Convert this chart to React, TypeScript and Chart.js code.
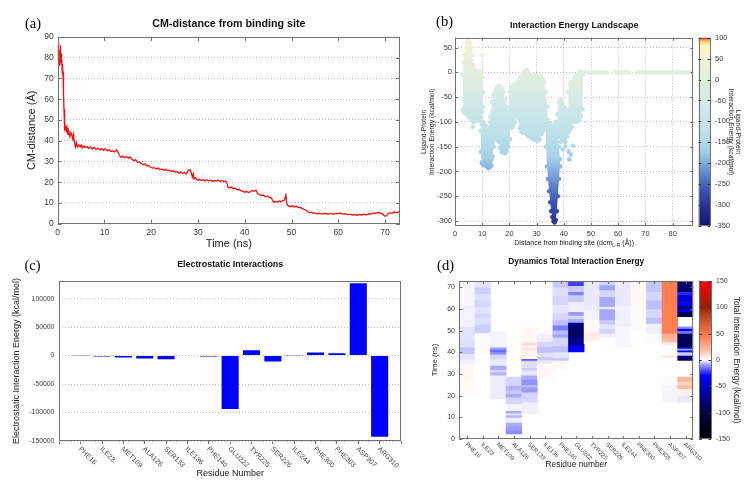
import { useEffect, useRef } from 'react';
import { Chart, registerables } from 'chart.js';

Chart.register(...registerables);

const SANS = '"Liberation Sans", Arial, Helvetica, sans-serif';
const SERIF = '"Liberation Serif", "DejaVu Serif", serif';
const TICK_COLOR = '#3a3a3a';
const GRID_COLOR = '#bdbdbd';
const FRAME_COLOR = '#707070';

// ---------------- (a) CM-distance from binding site ----------------
const cmTime = [
  0, 0.05, 0.1, 0.15, 0.2, 0.25, 0.3, 0.35, 0.4, 0.45, 0.5, 0.55, 0.6, 0.65, 0.7, 0.75, 0.8, 0.85, 0.9, 0.95,
  1.0, 1.05, 1.1, 1.15, 1.2, 1.25, 1.3, 1.35, 1.4, 1.45, 1.5, 1.55, 1.6, 1.7, 1.8, 1.9, 2.0, 2.1, 2.2, 2.3,
  2.4, 2.6, 2.8, 3.0, 3.2, 3.4, 3.5, 3.6, 3.8, 4.0, 4.2, 4.5, 4.8, 5.0, 5.3, 5.6, 6.0, 6.3, 6.6, 7.0,
  7.4, 7.8, 8.2, 8.6, 9.0, 9.4, 9.8, 10.2, 10.6, 11.0, 11.4, 11.8, 12.2, 12.6, 12.9, 13.2, 13.5, 13.9, 14.3, 14.7,
  15.1, 15.5, 15.9, 16.3, 16.7, 17.1, 17.5, 17.9, 18.3, 18.7, 19.1, 19.5, 19.9, 20.3, 20.7, 21.1, 21.5, 21.9, 22.3, 22.7,
  23.1, 23.5, 23.9, 24.3, 24.7, 25.1, 25.5, 25.9, 26.3, 26.7, 27.1, 27.5, 27.9, 28.2, 28.5, 28.8, 29.0, 29.2, 29.5, 29.9,
  30.3, 30.7, 31.1, 31.5, 31.9, 32.3, 32.7, 33.1, 33.5, 33.9, 34.3, 34.7, 35.1, 35.5, 35.9, 36.2, 36.4, 36.8, 37.2, 37.6,
  38.0, 38.4, 38.8, 39.2, 39.6, 40.0, 40.4, 40.8, 41.2, 41.6, 42.0, 42.4, 42.8, 43.2, 43.6, 44.0, 44.4, 44.8, 45.2, 45.6,
  46.0, 46.2, 46.6, 47.0, 47.4, 47.8, 48.2, 48.5, 48.7, 48.8, 48.9, 49.1, 49.4, 49.8, 50.2, 50.6, 51.0, 51.4, 51.8, 52.2,
  52.6, 53.0, 53.4, 53.8, 54.2, 54.6, 55.0, 55.5, 56.0, 56.5, 57.0, 57.5, 58.0, 58.5, 59.0, 59.5, 60.0, 60.5, 61.0, 61.5,
  62.0, 62.5, 63.0, 63.5, 64.0, 64.5, 65.0, 65.5, 66.0, 66.5, 67.0, 67.5, 68.0, 68.5, 69.0, 69.5, 70.0, 70.3, 70.6, 71.0,
  71.5, 72.0, 72.5, 73.0,
];
const cmDistance = [
  82, 86, 77, 84, 79, 87, 80, 76, 83, 78, 81, 86, 79, 84, 80, 77, 82, 78, 80, 74,
  77, 72, 76, 71, 73, 68, 62, 55, 52, 48, 50, 46, 47, 45, 47, 44, 46, 43, 45, 43,
  44, 42, 44, 43, 41, 43, 40, 39, 37, 39, 37, 38, 37, 38, 36.5, 37.5, 36.8, 37.2, 36.2, 37,
  36, 36.8, 35.8, 36.4, 35.6, 36.2, 35.4, 36.2, 35.2, 35.6, 34.8, 35.2, 34.6, 35.6, 34.4, 33, 32, 32.6, 31.8, 32.4,
  31.6, 32.2, 31, 30.4, 30.8, 29.6, 29.8, 29, 28.4, 28.8, 27.8, 28, 27.2, 26.8, 27, 26.4, 26.8, 26, 26.4, 25.8,
  26.2, 25.6, 25.8, 25.2, 25.6, 24.8, 25.2, 24.4, 25, 24.2, 24.8, 24, 25.8, 26, 25, 22.4, 24, 21.6, 22.2, 21,
  21.4, 20.8, 21.2, 20.6, 21.2, 20.8, 21, 20.4, 20.8, 20.6, 21, 20.4, 20.8, 20.2, 20.6, 19.4, 17.6, 17.2, 17.8, 16.8,
  17.2, 16.4, 16.6, 15.8, 15.6, 15.2, 15.6, 15, 15.4, 16, 15.6, 16.2, 14.4, 14, 13.6, 13.8, 13, 13.4, 12.8, 12.6,
  11.2, 10.4, 10.8, 10.4, 11, 10.6, 11.2, 11.4, 13.2, 14.6, 11, 9, 8.6, 8.2, 8.6, 8, 8.4, 7.8, 8, 7.4,
  7, 6.6, 6, 5.4, 5.6, 5, 5.2, 4.8, 5, 4.6, 5, 4.8, 4.6, 5, 4.6, 5, 4.8, 5.2, 4.6, 4.8,
  4.4, 4.6, 4.2, 4.4, 4, 4.4, 4.2, 4.6, 4.2, 4.8, 4.6, 5.2, 5, 5.4, 5.2, 4.6, 3.6, 3.8, 4.8, 5.2,
  5, 5.6, 5.2, 5.8,
];

// ---------------- (b) Interaction Energy Landscape ----------------
// each entry: [distance, upper energy, lower energy]
const landClusterA = [
  [2.8, -5, -75], [3.2, 20, -80], [3.6, 35, -82], [4.0, 50, -80], [4.4, 58, -84], [4.8, 63, -88], [5.2, 62, -90],
  [5.6, 58, -86], [6.0, 50, -95], [6.4, 35, -92], [6.8, 15, -100], [7.2, 5, -98], [7.6, 0, -93], [8.0, -2, -96],
  [8.4, 0, -97], [8.8, 2, -92], [9.2, -5, -98], [9.6, 0, -90], [10.0, -10, -80], [10.4, -40, -70],
];
const landClusterB = [
  [9.4, -118, -160], [9.8, -105, -182], [10.2, -100, -186], [10.6, -104, -185], [11.0, -108, -188], [11.4, -110, -184],
  [11.8, -118, -190], [12.2, -120, -193], [12.6, -112, -192], [13.0, -100, -190], [13.4, -90, -188], [13.8, -80, -170],
];
const landClusterC = [
  [13.0, -90, -180], [13.6, -60, -175], [14.2, -45, -150], [14.8, -36, -135], [15.4, -30, -130], [16.0, -27, -140],
  [16.6, -28, -152], [17.2, -32, -160], [17.8, -40, -162], [18.4, -55, -163], [19.0, -70, -158], [19.6, -80, -150],
  [20.2, -95, -135],
];
const landClusterD = [
  [19.6, -80, -100], [20.2, -40, -110], [20.8, -30, -112], [21.4, -25, -108], [22.0, -25, -100], [22.6, -22, -90],
  [23.2, -18, -92], [23.8, -12, -112], [24.4, -6, -120], [25.0, -2, -122], [25.6, 3, -118], [26.2, 5, -124],
  [26.8, 2, -128], [27.4, -3, -130], [28.0, -6, -132], [28.6, -8, -134], [29.2, -10, -136], [29.8, -6, -132],
  [30.4, -10, -138], [31.0, -12, -135], [31.6, -8, -125], [32.2, -12, -120], [32.8, -20, -115], [33.4, -40, -110],
  [34.0, -70, -105],
];
const landClusterE = [
  [33.4, -110, -150], [33.8, -100, -190], [34.2, -95, -215], [34.6, -100, -240], [35.0, -105, -262], [35.4, -110, -280],
  [35.8, -115, -292], [36.2, -110, -300], [36.6, -105, -303], [37.0, -100, -298], [37.4, -110, -280], [37.8, -120, -250],
  [38.2, -150, -215], [38.6, -175, -190],
];
const landClusterF = [
  [37.6, -85, -110], [38.2, -60, -130], [38.8, -55, -140], [39.4, -62, -138], [40.0, -70, -135], [40.6, -75, -140],
  [41.2, -78, -130], [41.8, -82, -120], [42.4, -90, -115], [43.0, -100, -110],
];
const landClusterG = [
  [41.6, -40, -80], [42.2, -25, -90], [42.8, -20, -95], [43.4, -15, -98], [44.0, -10, -99], [44.6, -8, -100],
  [45.2, -5, -98], [45.8, 0, -95], [46.4, 2, -88], [47.0, -5, -75],
];
const landFlat = [
  [47.5, 0], [56.8, 0], [57.5, null], [58.2, 0], [64.8, 0], [65.6, null], [66.4, 0], [87.6, 0],
];
const landIsolated = [
  [6.6, -110], [9.9, 34], [40.6, -149], [41.8, -160], [42.0, -176], [43.5, -148], [42.6, -166], [39.6, -155],
];

// ---------------- (c) Electrostatic Interactions ----------------
const residues = ['PHE16', 'ILE23', 'MET109', 'ALA126', 'SER133', 'ILE136', 'PHE140', 'GLU222', 'TYR225', 'SER226', 'ILE244', 'PHE300', 'PHE303', 'ASP307', 'ARG310'];
const elecEnergy = [-400, -1700, -3500, -5300, -6400, 0, -1500, -93700, 9500, -10500, 800, 5300, 4100, 127000, -142500];
const elecTicks = [-150000, -100000, -50000, 0, 50000, 100000];

// ---------------- (d) Dynamics Total Interaction Energy ----------------
// each entry: [time start (ns), time end (ns), energy (kcal/mol)]
const bandsPHE16 = [[20, 27, 1.2], [27, 34.8, 1.8], [34.8, 37, -1.5], [37, 39.4, -2.5], [39.4, 42.5, -5.5], [42.5, 46, -3], [46, 51.8, -2.5], [51.8, 62, -1.2], [62, 72.9, -0.8]];
const bandsILE23 = [[38, 49, 1], [49, 53, -4.5], [53, 56, -3], [56, 58, -4], [58, 61, -2.5], [61, 64, -4], [64, 67, -3], [67, 70, -4.5], [70, 72.9, -2.5]];
const bandsMET109 = [[18.5, 29.4, -1.8], [29.4, 31, -7], [31, 32, -4], [32, 34, -8], [34, 37, -2], [37, 39.1, -4], [39.1, 40.3, -12], [40.3, 41.2, -16], [41.2, 42.4, -10], [42.4, 49.5, -1]];
const bandsALA126 = [[2.3, 4, -12], [4, 6, -10], [6, 7.7, -8], [7.7, 10, -1.5], [10, 11, -7], [11, 12, -3], [12, 13.1, -8], [13.1, 16.2, -1], [16.2, 19.3, -4], [19.3, 21, -8], [21, 22.5, -5], [22.5, 24.7, -7], [24.7, 28.6, -4]];
const bandsSER133 = [[11.6, 17, -1.5], [17, 21.6, -4], [21.6, 24, -10], [24, 25, -6], [25, 27.5, -11], [27.5, 29.4, -8], [29.4, 31.7, -2], [31.7, 33, -5], [33, 35.5, -3], [35.5, 36.3, -4], [36.3, 37.1, -18], [37.1, 39.5, 1.5], [39.5, 41, -1], [41, 42, 8], [42, 43.5, 4], [43.5, 44.5, 10], [44.5, 47, 2], [47, 52, 1.5]];
const bandsILE136 = [[27, 35, 1.5], [35, 36.5, -2], [36.5, 38, -5], [38, 40, -3], [40, 42.5, -6], [42.5, 45, -4], [45, 48.7, -1.5], [48.7, 51, 0.8]];
const bandsPHE140 = [[31.7, 36.3, 1.5], [36.3, 37.5, -5], [37.5, 40.2, -2.5], [40.2, 43, -6], [43, 47, -4], [47, 48.5, -9], [48.5, 50.2, -6], [50.2, 52.5, -14], [52.5, 54.9, -6], [54.9, 58, -4], [58, 62, -2.5], [62, 66, -4], [66, 70, -3], [70, 72.9, -5]];
const bandsGLU222 = [[40.2, 43.3, -30], [43.3, 47, -70], [47, 52, -85], [52, 53.8, -70], [53.8, 55.5, -8], [55.5, 57, -4], [57, 58.7, -10], [58.7, 63.4, -1.5], [63.4, 66.5, -5], [66.5, 68, -13], [68, 70.8, -5], [70.8, 72.9, -22]];
const bandsTYR225 = [[44, 45.6, 1.5], [45.6, 49.5, 5], [49.5, 54.9, 2], [54.9, 59.5, -1], [59.5, 72.9, -2]];
const bandsSER226 = [[47, 48.7, -1.5], [48.7, 51, -4], [51, 53, -2.5], [53, 54.9, -5], [54.9, 60, -8.5], [60, 61, -2], [61, 65.7, -8], [65.7, 68.8, -4], [68.8, 71.1, -9], [71.1, 72.9, -4]];
const bandsILE244 = [[42, 52, -0.8], [52, 62, -1.5], [62, 72.9, -2]];
const bandsPHE300 = [[50, 60, 1], [60, 72.9, 1.5]];
const bandsPHE303 = [[44, 48.7, 1], [48.7, 53.3, -1.5], [53.3, 56, -6], [56, 60, -4], [60, 64, -6], [64, 68, -4], [68, 72.9, -5.5]];
const bandsASP307 = [[17, 25, -1], [25, 28.6, 1], [37.5, 38.5, 6], [43.5, 44.8, 6], [44.8, 46.5, 20], [46.5, 48.7, 25], [48.7, 72.9, 45]];
const bandsARG310 = [[17, 20, -2], [20, 23.2, 4], [23.2, 25, 20], [25, 26.5, 12], [26.5, 28.6, 22], [36.3, 38.6, -85], [38.6, 40.2, -5], [40.2, 41, -35], [41, 41.8, -8], [41.8, 42.5, -30], [42.5, 48.7, -90], [48.7, 50, -15], [50, 51, -30], [51, 51.8, -12], [56.4, 58.7, -90], [58.7, 60, -35], [60, 61.5, -75], [61.5, 63, -30], [63, 66.5, -45], [66.5, 68, -25], [68, 72.9, -85]];

// ---------------- palettes ----------------
type Stop = [number, number[]];
const PAL_B: Stop[] = [
  [-350, [16, 20, 120]], [-300, [40, 52, 150]], [-260, [62, 88, 178]], [-230, [92, 128, 202]], [-200, [132, 172, 221]],
  [-170, [166, 210, 230]], [-120, [190, 225, 232]], [-60, [210, 233, 232]], [0, [226, 238, 222]], [50, [240, 242, 214]],
  [80, [251, 244, 192]], [90, [253, 216, 122]], [96, [245, 130, 60]], [100, [215, 48, 39]],
];
const PAL_D: Stop[] = [
  [-150, [0, 0, 0]], [-100, [0, 0, 64]], [-70, [0, 0, 140]], [-30, [0, 0, 255]], [-8, [170, 170, 255]], [0, [255, 255, 255]],
  [15, [255, 200, 180]], [45, [255, 127, 80]], [75, [205, 85, 45]], [100, [150, 35, 10]], [125, [200, 20, 5]], [150, [255, 0, 0]],
];

function mapColor(pal: Stop[], v: number): string {
  const rgb = (c: number[]) => `rgb(${c[0]},${c[1]},${c[2]})`;
  if (v <= pal[0][0]) return rgb(pal[0][1]);
  for (let i = 1; i < pal.length; i++) {
    if (v <= pal[i][0]) {
      const [v0, c0] = pal[i - 1];
      const [v1, c1] = pal[i];
      const t = (v - v0) / (v1 - v0);
      return rgb([0, 1, 2].map((k) => Math.round(c0[k] + (c1[k] - c0[k]) * t)));
    }
  }
  return rgb(pal[pal.length - 1][1]);
}

function paletteGradient(ctx: CanvasRenderingContext2D, pal: Stop[], yTop: number, yBot: number, vTop: number, vBot: number) {
  const g = ctx.createLinearGradient(0, yTop, 0, yBot);
  for (const [v] of pal) {
    const t = (vTop - v) / (vTop - vBot);
    if (t >= 0 && t <= 1) g.addColorStop(t, mapColor(pal, v));
  }
  return g;
}

// ---------------- drawing helpers ----------------
function drawText(ctx: CanvasRenderingContext2D, s: string, x: number, y: number, font: string, color = '#000', align: CanvasTextAlign = 'center', rot = 0) {
  ctx.save();
  ctx.translate(x, y);
  if (rot) ctx.rotate(rot);
  ctx.font = font;
  ctx.fillStyle = color;
  ctx.textAlign = align;
  ctx.textBaseline = 'middle';
  ctx.fillText(s, 0, 0);
  ctx.restore();
}

function drawFrame(chart: any) {
  const { ctx, chartArea: ca } = chart;
  ctx.save();
  ctx.strokeStyle = FRAME_COLOR;
  ctx.lineWidth = 1;
  const l = Math.round(ca.left) + 0.5, t = Math.round(ca.top) + 0.5;
  const r = Math.round(ca.right) - 0.5, b = Math.round(ca.bottom) - 0.5;
  ctx.strokeRect(l, t, r - l, b - t);
  ctx.restore();
}

function innerTicks(chart: any, xVals: number[], yVals: number[], len = 4) {
  const { ctx, chartArea: ca, scales } = chart;
  ctx.save();
  ctx.strokeStyle = FRAME_COLOR;
  ctx.lineWidth = 1;
  ctx.beginPath();
  for (const v of xVals) {
    const px = Math.round(scales.x.getPixelForValue(v)) + 0.5;
    ctx.moveTo(px, ca.bottom); ctx.lineTo(px, ca.bottom - len);
    ctx.moveTo(px, ca.top); ctx.lineTo(px, ca.top + len);
  }
  for (const v of yVals) {
    const py = Math.round(scales.y.getPixelForValue(v)) + 0.5;
    ctx.moveTo(ca.left, py); ctx.lineTo(ca.left + len, py);
    ctx.moveTo(ca.right, py); ctx.lineTo(ca.right - len, py);
  }
  ctx.stroke();
  ctx.restore();
}

function drawColorbar(chart: any, pal: Stop[], gap: number, w: number, vMax: number, vMin: number) {
  const { ctx, chartArea: ca, scales } = chart;
  const cb = scales.cb;
  const x0 = ca.right + gap;
  const yTop = cb.getPixelForValue(vMax), yBot = cb.getPixelForValue(vMin);
  ctx.save();
  ctx.fillStyle = paletteGradient(ctx, pal, yTop, yBot, vMax, vMin);
  ctx.fillRect(x0, yTop, w, yBot - yTop);
  ctx.strokeStyle = FRAME_COLOR;
  ctx.lineWidth = 1;
  ctx.strokeRect(Math.round(x0) + 0.5, Math.round(yTop) + 0.5, Math.round(w), Math.round(yBot - yTop) - 1);
  ctx.strokeStyle = '#333';
  ctx.beginPath();
  for (const t of cb.ticks) {
    const py = Math.round(cb.getPixelForValue(t.value)) + 0.5;
    ctx.moveTo(x0, py); ctx.lineTo(x0 + 2.5, py);
    ctx.moveTo(x0 + w, py); ctx.lineTo(x0 + w - 2.5, py);
  }
  ctx.stroke();
  ctx.restore();
}

function rotatedLabels(chart: any, labels: string[], font: string, dx: number, dy: number) {
  const { ctx, chartArea: ca, scales } = chart;
  labels.forEach((s, i) => {
    const px = scales.x.getPixelForValue(i);
    drawText(ctx, s, px + dx, ca.bottom + dy, font, '#444', 'left', Math.PI / 4);
  });
}

const zeroPad = (s: any) => { s.paddingTop = 0; s.paddingBottom = 0; s.paddingLeft = 0; s.paddingRight = 0; };

const baseOptions = {
  responsive: false,
  animation: false as const,
  devicePixelRatio: 1,
  events: [] as any[],
  plugins: { legend: { display: false }, title: { display: false }, tooltip: { enabled: false } },
};

// ---------------- configs ----------------
function configA(): any {
  return {
    type: 'line',
    data: {
      datasets: [{
        data: cmTime.map((t, i) => ({ x: t, y: cmDistance[i] })),
        borderColor: '#f01010', borderWidth: 1.3, pointRadius: 0, tension: 0,
      }],
    },
    options: {
      ...baseOptions,
      layout: { padding: { left: 7.7, right: 353, top: 37, bottom: 234.3 } },
      scales: {
        x: {
          type: 'linear', min: 0, max: 73.2,
          ticks: { stepSize: 10, includeBounds: false, maxRotation: 0, padding: 4, color: TICK_COLOR, font: { family: SANS, size: 8.5 } },
          grid: { display: false, drawTicks: false }, border: { display: false },
          title: { display: true, text: 'Time (ns)', color: '#222', font: { family: SANS, size: 11 }, padding: { top: 0, bottom: 5 } },
          afterFit: (s: any) => { s.height = 32; zeroPad(s); },
        },
        y: {
          type: 'linear', min: 0, max: 90,
          ticks: { stepSize: 10, padding: 4, color: TICK_COLOR, font: { family: SANS, size: 8.5 } },
          grid: { color: GRID_COLOR, drawTicks: false }, border: { display: false, dash: [1, 2] },
          title: { display: true, text: 'CM-distance (Å)', color: '#222', font: { family: SANS, size: 11 }, padding: { top: 18, bottom: 0 } },
          afterFit: (s: any) => { s.width = 50; zeroPad(s); },
        },
      },
    },
    plugins: [{
      id: 'decoA',
      afterDraw(chart: any) {
        const ca = chart.chartArea;
        drawFrame(chart);
        innerTicks(chart, chart.scales.x.ticks.map((t: any) => t.value), chart.scales.y.ticks.map((t: any) => t.value));
        drawText(chart.ctx, '(a)', 33, 24.5, `14.5px ${SERIF}`);
        drawText(chart.ctx, 'CM-distance from binding site', (ca.left + ca.right) / 2, ca.top - 12.8, `bold 10.7px ${SANS}`, '#111');
      },
    }],
  };
}

function configB(): any {
  const ptColor = (c: any) => mapColor(PAL_B, c.raw && typeof c.raw.y === 'number' ? c.raw.y : 0);
  const fillGrad = (c: any) => {
    const ch = c.chart;
    const y = ch.scales && ch.scales.y;
    if (!y || !ch.chartArea) return mapColor(PAL_B, -100);
    return paletteGradient(ch.ctx, PAL_B, y.getPixelForValue(100), y.getPixelForValue(-350), 100, -350);
  };
  const clusters = [landClusterA, landClusterB, landClusterC, landClusterD, landClusterE, landClusterF, landClusterG];
  const datasets: any[] = [];
  clusters.forEach((cl) => {
    datasets.push({
      data: cl.map((p) => ({ x: p[0], y: p[1] })),
      borderColor: 'rgba(0,0,0,0)', borderWidth: 0, pointRadius: 2.3, pointBorderWidth: 0,
      pointBorderColor: 'rgba(0,0,0,0)', pointBackgroundColor: ptColor, fill: false,
    });
    datasets.push({
      data: cl.map((p) => ({ x: p[0], y: p[2] })),
      borderColor: 'rgba(0,0,0,0)', borderWidth: 0, pointRadius: 2.3, pointBorderWidth: 0,
      pointBorderColor: 'rgba(0,0,0,0)', pointBackgroundColor: ptColor, fill: '-1', backgroundColor: fillGrad,
    });
  });
  datasets.push({
    data: landFlat.map((p) => ({ x: p[0], y: p[1] })),
    borderColor: mapColor(PAL_B, 0), borderWidth: 4, pointRadius: 0, spanGaps: false, fill: false,
  });
  datasets.push({
    data: landIsolated.map((p) => ({ x: p[0], y: p[1] })),
    showLine: false, pointRadius: 2.3, pointBorderWidth: 0, pointBackgroundColor: ptColor, fill: false,
  });
  return {
    type: 'line',
    data: { datasets },
    options: {
      ...baseOptions,
      layout: { padding: { left: 415, right: 9.7, top: 37.7, bottom: 239 } },
      scales: {
        x: {
          type: 'linear', min: 0, max: 87.6,
          ticks: { stepSize: 10, includeBounds: false, maxRotation: 0, padding: 3, color: TICK_COLOR, font: { family: SANS, size: 7.5 } },
          grid: { color: GRID_COLOR, drawTicks: false }, border: { display: false, dash: [1, 2] },
          afterFit: (s: any) => { s.height = 25; zeroPad(s); },
        },
        y: {
          type: 'linear', min: -310, max: 70,
          ticks: { stepSize: 50, includeBounds: false, padding: 3, color: TICK_COLOR, font: { family: SANS, size: 7.5 } },
          grid: { color: GRID_COLOR, drawTicks: false }, border: { display: false, dash: [1, 2] },
          title: { display: true, text: ['Ligand-Protein', 'Interaction Energy (kcal/mol)'], color: '#222', font: { family: SANS, size: 6.8, lineHeight: 1.05 }, padding: { top: 6, bottom: 0 } },
          afterFit: (s: any) => { s.width = 40; zeroPad(s); },
        },
        cb: {
          type: 'linear', position: 'right', min: -350, max: 100,
          ticks: { stepSize: 50, padding: 21.7, color: TICK_COLOR, font: { family: SANS, size: 7.5 } },
          grid: { display: false, drawTicks: false }, border: { display: false },
          title: { display: true, text: ['Ligand-Protein', 'Interaction Energy (kcal/mol)'], color: '#222', font: { family: SANS, size: 6.8, lineHeight: 1.05 }, padding: { top: 2.2, bottom: 0 } },
          afterFit: (s: any) => { s.width = 50; zeroPad(s); },
        },
      },
    },
    plugins: [{
      id: 'decoB',
      afterDraw(chart: any) {
        const { ctx, chartArea: ca } = chart;
        drawFrame(chart);
        innerTicks(chart, chart.scales.x.ticks.map((t: any) => t.value), chart.scales.y.ticks.map((t: any) => t.value), 3);
        drawColorbar(chart, PAL_B, 5.4, 11.3, 100, -350);
        drawText(ctx, '(b)', 444.5, 22.5, `14.5px ${SERIF}`);
        drawText(ctx, 'Interaction Energy Landscape', (ca.left + ca.right) / 2, ca.top - 12, `bold 9px ${SANS}`, '#111');
        // x-axis title with subscript
        const main = `7px ${SANS}`, sub = `5px ${SANS}`;
        ctx.save();
        ctx.font = main;
        const p1 = 'Distance from binding site (dcm', p3 = ' (Å))';
        const w1 = ctx.measureText(p1).width, w3 = ctx.measureText(p3).width;
        ctx.font = sub;
        const w2 = ctx.measureText('L-R').width;
        ctx.restore();
        const x0 = (ca.left + ca.right) / 2 - (w1 + w2 + w3) / 2;
        const yT = 243.5;
        drawText(ctx, p1, x0, yT, main, '#222', 'left');
        drawText(ctx, 'L-R', x0 + w1, yT + 2, sub, '#222', 'left');
        drawText(ctx, p3, x0 + w1 + w2, yT, main, '#222', 'left');
      },
    }],
  };
}

function configC(): any {
  return {
    type: 'bar',
    data: {
      datasets: [{
        data: residues.map((_, i) => ({ x: i, y: elecEnergy[i] })),
        backgroundColor: '#0000ff', borderWidth: 0, barPercentage: 0.8, categoryPercentage: 1,
      }],
    },
    options: {
      ...baseOptions,
      layout: { padding: { left: 9.3, right: 352, top: 281, bottom: 9 } },
      scales: {
        x: {
          type: 'linear', min: -1, max: 15, offset: false,
          ticks: { display: false, stepSize: 1 },
          grid: { display: true, drawOnChartArea: false, drawTicks: true, tickLength: 3, offset: false, color: FRAME_COLOR },
          border: { display: false },
          title: { display: true, text: 'Residue Number', color: '#222', font: { family: SANS, size: 9 }, padding: { top: 0, bottom: 1.6 } },
          afterFit: (s: any) => { s.height = 40; zeroPad(s); },
        },
        y: {
          type: 'linear', min: -150000, max: 131000,
          afterBuildTicks: (s: any) => { s.ticks = elecTicks.map((v) => ({ value: v })); },
          ticks: { padding: 5, color: TICK_COLOR, font: { family: SANS, size: 6.8 }, callback: (v: any) => String(v) },
          grid: { color: GRID_COLOR, drawTicks: false }, border: { display: false, dash: [1, 2] },
          title: { display: true, text: 'Electrostatic Interaction Energy (kcal/mol)', color: '#222', font: { family: SANS, size: 9 }, padding: { top: 2.3, bottom: 0 } },
          afterFit: (s: any) => { s.width = 50; zeroPad(s); },
        },
      },
    },
    plugins: [{
      id: 'decoC',
      afterDraw(chart: any) {
        const { ctx, chartArea: ca } = chart;
        drawFrame(chart);
        rotatedLabels(chart, residues, `7px ${SANS}`, -1, 7);
        drawText(ctx, '(c)', 32.5, 266.5, `14.5px ${SERIF}`);
        drawText(ctx, 'Electrostatic Interactions', (ca.left + ca.right) / 2, ca.top - 16, `bold 8.9px ${SANS}`, '#111');
      },
    }],
  };
}

function configD(): any {
  const bandSets = [bandsPHE16, bandsILE23, bandsMET109, bandsALA126, bandsSER133, bandsILE136, bandsPHE140, bandsGLU222, bandsTYR225, bandsSER226, bandsILE244, bandsPHE300, bandsPHE303, bandsASP307, bandsARG310];
  const data: any[] = [];
  bandSets.forEach((bands, i) => {
    bands.forEach((b) => data.push({ x: i, y: [b[0], b[1]], v: b[2] }));
  });
  return {
    type: 'bar',
    data: {
      datasets: [{
        data,
        backgroundColor: (c: any) => mapColor(PAL_D, c.raw ? c.raw.v : 0),
        borderWidth: 0, barPercentage: 1, categoryPercentage: 1, borderSkipped: false,
      }],
    },
    options: {
      ...baseOptions,
      layout: { padding: { left: 424.3, right: 9.7, top: 281, bottom: 16 } },
      scales: {
        x: {
          type: 'linear', min: -0.5, max: 14.5, offset: false,
          ticks: { display: false, stepSize: 1 },
          grid: { display: false, offset: false }, border: { display: false },
          title: { display: true, text: 'Residue number', color: '#222', font: { family: SANS, size: 8.4 }, padding: { top: 0, bottom: 4.5 } },
          afterFit: (s: any) => { s.height = 35; zeroPad(s); },
        },
        y: {
          type: 'linear', min: 0, max: 72.9,
          ticks: { stepSize: 10, includeBounds: false, padding: 4.3, color: TICK_COLOR, font: { family: SANS, size: 7 } },
          grid: { display: false, drawTicks: false }, border: { display: false },
          title: { display: true, text: 'Time (ns)', color: '#222', font: { family: SANS, size: 7.8 }, padding: { top: 6, bottom: 0 } },
          afterFit: (s: any) => { s.width = 35; zeroPad(s); },
        },
        cb: {
          type: 'linear', position: 'right', min: -150, max: 150,
          ticks: { stepSize: 50, padding: 22.7, color: TICK_COLOR, font: { family: SANS, size: 7 } },
          grid: { display: false, drawTicks: false }, border: { display: false },
          title: { display: true, text: 'Total Interaction Energy (kcal/mol)', color: '#222', font: { family: SANS, size: 8.4 }, padding: { top: 2.2, bottom: 0 } },
          afterFit: (s: any) => { s.width = 50; zeroPad(s); },
        },
      },
    },
    plugins: [{
      id: 'decoD',
      afterDraw(chart: any) {
        const { ctx, chartArea: ca } = chart;
        drawFrame(chart);
        innerTicks(chart, residues.map((_, i) => i), chart.scales.y.ticks.map((t: any) => t.value), 3);
        drawColorbar(chart, PAL_D, 6, 11.7, 150, -150);
        rotatedLabels(chart, residues, `6px ${SANS}`, -1, 4.5);
        drawText(ctx, '(d)', 445.5, 266, `14.5px ${SERIF}`);
        drawText(ctx, 'Dynamics Total Interaction Energy', (ca.left + ca.right) / 2, ca.top - 19, `bold 8.3px ${SANS}`, '#111');
      },
    }],
  };
}

export default function App() {
  const refA = useRef<HTMLCanvasElement>(null);
  const refB = useRef<HTMLCanvasElement>(null);
  const refC = useRef<HTMLCanvasElement>(null);
  const refD = useRef<HTMLCanvasElement>(null);

  useEffect(() => {
    const charts = [
      new Chart(refA.current!, configA()),
      new Chart(refB.current!, configB()),
      new Chart(refC.current!, configC()),
      new Chart(refD.current!, configD()),
    ];
    return () => charts.forEach((c) => c.destroy());
  }, []);

  const style: any = { position: 'absolute', left: 0, top: 0, width: 753, height: 490 };
  return (
    <div style={{ position: 'fixed', left: 0, top: 0, width: 753, height: 490, background: '#ffffff', overflow: 'hidden' }}>
      <canvas ref={refA} width={753} height={490} style={style} />
      <canvas ref={refB} width={753} height={490} style={style} />
      <canvas ref={refC} width={753} height={490} style={style} />
      <canvas ref={refD} width={753} height={490} style={style} />
    </div>
  );
}
